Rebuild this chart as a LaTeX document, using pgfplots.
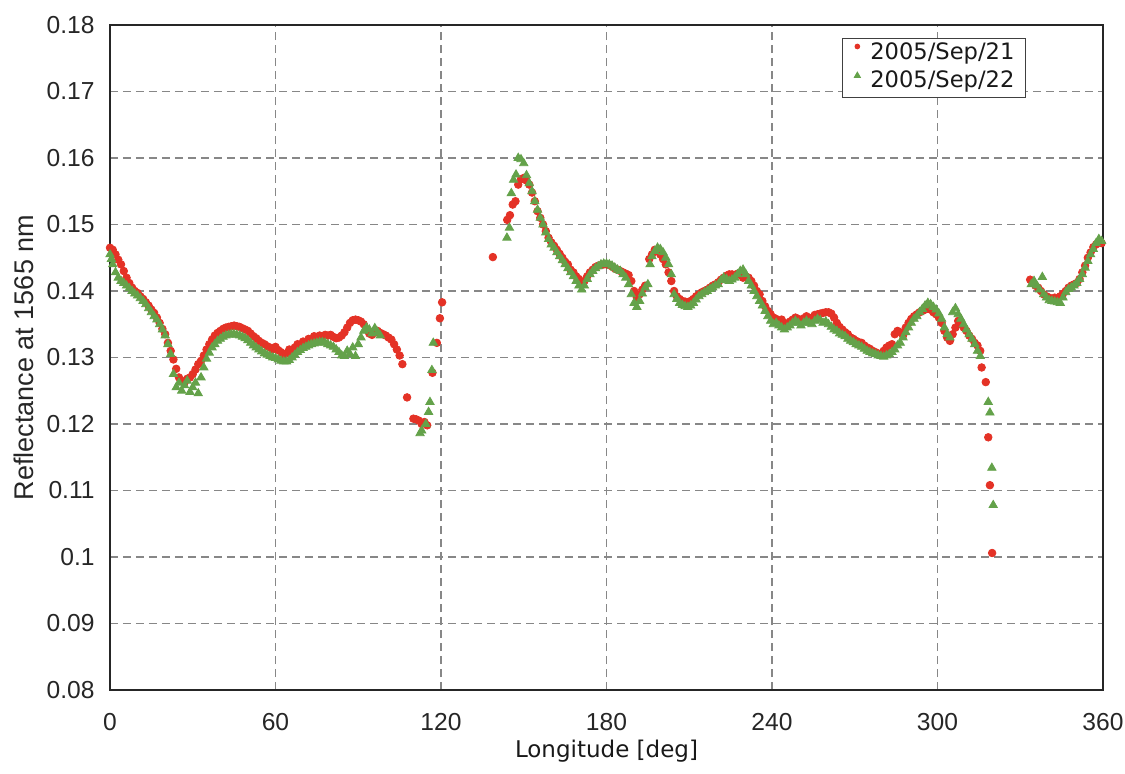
\documentclass[border=0pt]{standalone}
\usepackage{pgfplots}
\usepackage{pgfplotstable}
\pgfplotsset{compat=1.18}
\usepackage{fontspec}
\setmainfont{Liberation Sans}
\newfontfamily\gothic{DejaVu Sans}
\definecolor{redpt}{RGB}{228,50,38}
\definecolor{greenpt}{RGB}{100,162,74}
\definecolor{gridgray}{RGB}{135,135,135}

% Reflectance at 1565 nm, 2005/Sep/21
\pgfplotstableread{
x y
0 .1465
1 .1462
2 .1455
3 .1447
4 .1440
5 .1430
6 .1420
7 .1412
8 .1405
9 .1400
10 .1397
11 .1392
12 .1388
13 .1383
14 .1378
15 .1372
16 .1367
17 .1360
18 .1352
19 .1343
20 .1335
21 .1322
22 .1310
23 .1297
24 .1283
25 .1270
26 .1265
27 .1262
28 .1268
29 .1270
30 .1275
31 .1282
32 .1290
33 .1295
34 .1303
35 .1312
36 .1320
37 .1327
38 .1333
39 .1337
40 .1340
41 .1343
42 .1345
43 .1346
44 .1347
45 .1348
46 .1347
47 .1346
48 .1344
49 .1342
50 .1340
51 .1336
52 .1332
53 .1329
54 .1325
55 .1322
56 .1320
57 .1317
58 .1315
59 .1312
60 .1316
61 .1311
62 .1308
63 .1305
64 .1306
65 .1312
66 .1308
67 .1315
68 .1320
69 .1318
70 .1324
71 .1322
72 .1328
73 .1325
74 .1332
75 .1330
76 .1333
77 .1331
78 .1334
79 .1333
80 .1334
81 .1331
82 .1329
83 .1330
84 .1333
85 .1338
86 .1345
87 .1352
88 .1356
89 .1357
90 .1356
91 .1354
92 .1350
93 .1342
94 .1336
95 .1334
96 .1338
97 .1340
98 .1337
99 .1335
100 .1333
101 .1330
102 .1327
103 .1320
104 .1312
105 .1303
106 .1290
107.7 .1240
110 .1208
111 .1207
112 .1205
113 .1200
114 .1203
115 .1198
116.9 .1277
118.5 .1322
119.6 .1359
120.4 .1383
138.8 .1451
144 .1507
145 .1514
146 .1530
147 .1535
148 .1560
149 .1568
150 .1570
151 .1566
152 .1560
153 .1548
154 .1535
155 .1520
156 .1510
157 .1500
158 .1490
159 .1480
160 .1473
161 .1468
162 .1462
163 .1456
164 .1450
165 .1444
166 .1440
167 .1432
168 .1428
169 .1422
170 .1418
171 .1413
172 .1415
173 .1422
174 .1428
175 .1432
176 .1436
177 .1438
178 .1439
179 .1440
180 .1440
181 .1439
182 .1437
183 .1434
184 .1432
185 .1430
186 .1428
187 .1426
188 .1424
189 .1415
190 .1400
191 .1390
192 .1395
193 .1402
194 .1408
195.5 .1448
196.5 .1455
197.5 .1462
198.5 .1460
199.5 .1455
200.5 .1448
201.5 .1440
202.5 .1428
203.5 .1415
204.5 .1400
205.5 .1392
206.5 .1388
207.5 .1385
208.5 .1384
209.5 .1383
210.5 .1385
211.5 .1388
212.5 .1392
213.5 .1395
214.5 .1398
215.5 .1400
216.5 .1402
217.5 .1405
218.5 .1408
219.5 .1410
220.5 .1413
221.5 .1417
222.5 .1420
223.5 .1423
224.5 .1425
225.5 .1425
226.5 .1424
227.5 .1426
228.5 .1424
229.5 .1420
230.5 .1422
231.5 .1420
232.5 .1415
233.5 .1408
234.5 .1400
235.5 .1395
236.5 .1385
237.5 .1377
238.5 .1370
239.5 .1365
240.5 .1360
241.5 .1358
242.5 .1355
243.5 .1357
244.5 .1352
245.5 .1350
246.5 .1354
247.5 .1357
248.5 .1360
249.5 .1358
250.5 .1356
251.5 .1359
252.5 .1362
253.5 .1358
254.5 .1360
255.5 .1364
256.5 .1365
257.5 .1366
258.5 .1367
259.5 .1368
260.5 .1368
261.5 .1366
262.5 .1360
263.5 .1352
264.5 .1346
265.5 .1342
266.5 .1338
267.5 .1335
268.5 .1330
269.5 .1328
270.5 .1325
271.5 .1323
272.5 .1322
273.5 .1318
274.5 .1315
275.5 .1313
276.5 .1310
277.5 .1308
278.5 .1306
279.5 .1305
280.5 .1310
281.5 .1315
282.5 .1318
283.5 .1320
284.5 .1335
285.5 .1340
286.5 .1338
287.5 .1333
288.5 .1345
289.5 .1352
290.5 .1358
291.5 .1362
292.5 .1365
293.5 .1368
294.5 .1370
295.5 .1372
296.5 .1375
297.5 .1372
298.5 .1368
299.5 .1365
300.5 .1360
301.5 .1352
302.5 .1340
303.5 .1330
304.5 .1325
305.5 .1335
306.5 .1345
307.5 .1355
308.5 .1350
309.5 .1345
310.5 .1340
311.5 .1333
312.5 .1328
313.5 .1322
314.5 .1318
315.5 .1310
316 .1285
317.5 .1263
318.4 .1180
319 .1108
319.8 .1006
333.6 .1417
334.5 .1412
335.5 .1408
336.5 .1405
337.5 .1400
338.5 .1395
339.5 .1392
340.5 .1390
341.5 .1388
342.5 .1390
343.5 .1388
344.5 .1392
345.5 .1396
346.5 .1400
347.5 .1405
348.5 .1408
349.5 .1410
350.5 .1412
351.5 .1418
352.5 .1428
353.5 .1438
354.5 .1450
355.5 .1458
356.5 .1466
357.5 .1470
358.5 .1473
359.5 .1472
}\sepA

% Reflectance at 1565 nm, 2005/Sep/22
\pgfplotstableread{
x y
0 .1455
0.5 .1448
1 .1440
2 .1428
3 .1420
4 .1415
5 .1412
6 .1408
7 .1404
8 .1400
9 .1396
10 .1393
11 .1389
12 .1385
13 .1380
14 .1374
15 .1368
16 .1362
17 .1357
18 .1350
19 .1342
20 .1333
21 .1320
22 .1305
23 .1275
24 .1255
25 .1262
26 .1250
27 .1258
28 .1265
29 .1248
30 .1255
31 .1262
32 .1246
33 .1270
34 .1285
35 .1298
36 .1307
37 .1315
38 .1320
39 .1325
40 .1328
41 .1331
42 .1333
43 .1334
44 .1335
45 .1335
46 .1334
47 .1333
48 .1331
49 .1329
50 .1326
51 .1322
52 .1318
53 .1315
54 .1312
55 .1309
56 .1306
57 .1304
58 .1302
59 .1300
60 .1299
61 .1297
62 .1295
63 .1294
64 .1294
65 .1296
66 .1300
67 .1304
68 .1308
69 .1311
70 .1314
71 .1316
72 .1318
73 .1320
74 .1321
75 .1322
76 .1323
77 .1323
78 .1322
79 .1320
80 .1318
81 .1316
82 .1312
83 .1308
84 .1303
85 .1302
86 .1310
87 .1305
88 .1315
89 .1302
90 .1320
91 .1330
92 .1340
93 .1345
94 .1342
95 .1336
96 .1344
97 .1338
98 .1333
112.4 .1186
113 .1190
114.5 .1200
115.5 .1218
116 .1233
116.7 .1281
117.2 .1322
143.9 .1480
144.8 .1495
145.5 .1547
146.3 .1567
147.2 .1575
148 .1600
149 .1598
150 .1592
151 .1574
152 .1562
153 .1550
154 .1535
155 .1522
156 .1510
157 .1500
158 .1488
159 .1478
160 .1470
161 .1465
162 .1458
163 .1452
164 .1446
165 .1440
166 .1434
167 .1428
168 .1422
169 .1415
170 .1408
171 .1402
172 .1408
173 .1418
174 .1425
175 .1430
176 .1434
177 .1437
178 .1440
179 .1441
180 .1441
181 .1440
182 .1438
183 .1435
184 .1432
185 .1430
186 .1425
187 .1420
188 .1410
189 .1395
190 .1382
191 .1376
192 .1385
193 .1396
194 .1405
195 .1410
195.8 .1440
196.5 .1452
197.5 .1460
198.5 .1465
199.5 .1463
200.5 .1458
201.5 .1450
202.5 .1440
203.5 .1425
204.5 .1395
205.5 .1388
206.5 .1382
207.5 .1379
208.5 .1377
209.5 .1376
210.5 .1378
211.5 .1382
212.5 .1387
213.5 .1392
214.5 .1395
215.5 .1398
216.5 .1400
217.5 .1403
218.5 .1405
219.5 .1408
220.5 .1410
221.5 .1416
222.5 .1420
223.5 .1418
224.5 .1415
225.5 .1417
226.5 .1420
227.5 .1425
228.5 .1430
229.5 .1432
230.5 .1425
231.5 .1415
232.5 .1408
233.5 .1400
234.5 .1392
235.5 .1385
236.5 .1378
237.5 .1370
238.5 .1362
239.5 .1355
240.5 .1350
241.5 .1352
242.5 .1348
243.5 .1345
244.5 .1342
245.5 .1345
246.5 .1348
247.5 .1352
248.5 .1355
249.5 .1352
250.5 .1348
251.5 .1352
252.5 .1355
253.5 .1352
254.5 .1350
255.5 .1355
256.5 .1358
257.5 .1356
258.5 .1352
259.5 .1354
260.5 .1350
261.5 .1346
262.5 .1342
263.5 .1340
264.5 .1336
265.5 .1334
266.5 .1332
267.5 .1328
268.5 .1325
269.5 .1323
270.5 .1320
271.5 .1318
272.5 .1316
273.5 .1313
274.5 .1310
275.5 .1308
276.5 .1306
277.5 .1305
278.5 .1303
279.5 .1302
280.5 .1301
281.5 .1303
282.5 .1305
283.5 .1308
284.5 .1312
285.5 .1318
286.5 .1322
287.5 .1330
288.5 .1338
289.5 .1345
290.5 .1352
291.5 .1358
292.5 .1362
293.5 .1368
294.5 .1373
295.5 .1378
296.5 .1382
297.5 .1380
298.5 .1376
299.5 .1372
300.5 .1366
301.5 .1358
302.5 .1345
303.5 .1335
304.5 .1330
305.5 .1368
306.5 .1374
307.5 .1365
308.5 .1358
309.5 .1350
310.5 .1342
311.5 .1335
312.5 .1328
313.5 .1320
314.5 .1310
315.5 .1302
318.4 .1233
319 .1217
319.7 .1134
320.2 .1078
334 .1410
335 .1415
336 .1408
337 .1402
338 .1421
338.5 .1395
339.5 .1390
340.5 .1386
341.5 .1385
342.5 .1384
343.5 .1383
344.5 .1382
345.5 .1390
346.5 .1398
347.5 .1403
348.5 .1405
349.5 .1408
350.5 .1412
351.5 .1418
352.5 .1425
353.5 .1435
354.5 .1445
355.5 .1455
356.5 .1463
357.5 .1472
358.5 .1478
359.5 .1475
}\sepB

\begin{document}
\begin{tikzpicture}
\begin{axis}[
  at={(0,0)}, anchor=south west,
  scale only axis,
  width=496.5pt, height=332.5pt,
  xmin=0, xmax=360, ymin=0.08, ymax=0.18,
  xtick={0,60,120,180,240,300,360},
  ytick={0.08,0.09,0.10,0.11,0.12,0.13,0.14,0.15,0.16,0.17,0.18},
  major tick length=0pt,
  grid=major,
  major grid style={gridgray, line width=0.6pt, dash pattern=on 4pt off 2.5pt},
  axis line style={black!85, line width=1.1pt},
  /pgf/number format/assume math mode=true,
  tick label style={font=\fontsize{12.3}{14}\selectfont, text=black!85},
  yticklabel style={/pgf/number format/fixed, /pgf/number format/precision=2,
    inner sep=0pt, anchor=east, xshift=-7.5pt},
  xticklabel style={inner sep=0pt, anchor=north, yshift=-11.5pt},
  xlabel={\gothic Longitude [deg]},
  xlabel style={font=\fontsize{11.5}{14}\selectfont, text=black!90,
    at={(axis description cs:0.5,-0.1008)}, anchor=base, inner sep=0pt},
  ylabel={Reflectance at 1565 nm},
  ylabel style={font=\fontsize{13.5}{16}\selectfont, text=black!85,
    at={(axis description cs:-0.0775,0.5)}, anchor=base, inner sep=0pt},
  legend style={at={(rel axis cs:0.9225,0.9805)}, anchor=north east,
    draw=black!75, line width=0.6pt, fill=white,
    inner xsep=0pt, inner ysep=2pt, row sep=3.5pt,
    font=\gothic\fontsize{11.3}{13}\selectfont, text=black!90,
    nodes={inner sep=0pt, text height=8.3pt, text depth=2.6pt}},
  legend cell align=left,
]
\addplot[only marks, mark=*, mark size=1.9pt, color=redpt,
  legend image code/.code={\path[draw=none, fill=none] (0pt,0pt) -- (14pt,0pt);
    \path[draw=none] plot[only marks, mark=*, mark size=1.1pt,
      mark options={draw=redpt, fill=redpt}] coordinates {(7.5pt,3.5pt)};}]
  table[x=x, y=y] {\sepA};
\addlegendentry{2005/Sep/21\hspace*{5.5pt}}
\addplot[only marks, mark=triangle*, mark size=2.4pt, color=greenpt,
  legend image code/.code={\path[draw=none, fill=none] (0pt,0pt) -- (14pt,0pt);
    \path[draw=none] plot[only marks, mark=triangle*, mark size=1.6pt,
      mark options={draw=greenpt, fill=greenpt}] coordinates {(7.5pt,3.3pt)};}]
  table[x=x, y=y] {\sepB};
\addlegendentry{2005/Sep/22\hspace*{5.5pt}}
\end{axis}
\pgfresetboundingbox
\useasboundingbox (-55pt,-41.5pt) rectangle (507.5pt,345pt);
\end{tikzpicture}
\end{document}
